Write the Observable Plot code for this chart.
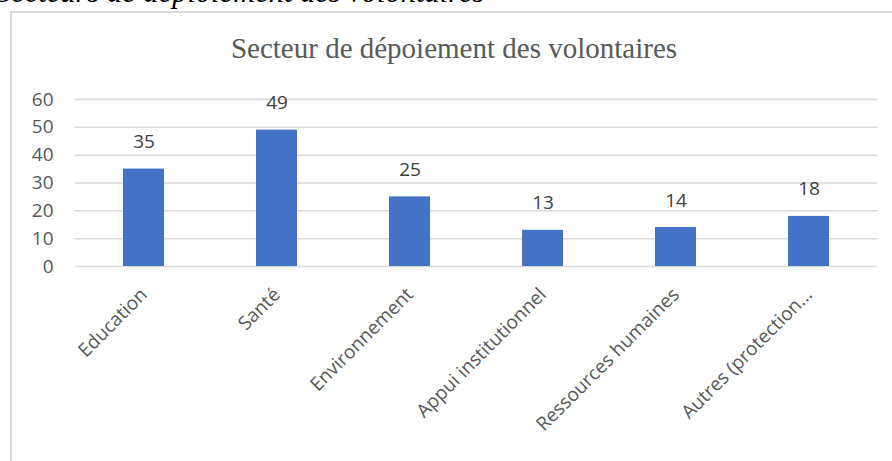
<!DOCTYPE html>
<html>
<head>
<meta charset="utf-8">
<script src="https://cdn.jsdelivr.net/npm/d3@7"></script>
<script src="https://cdn.jsdelivr.net/npm/@observablehq/plot@0.6"></script>
<style>
  html, body { margin: 0; padding: 0; background: #fff; width: 892px; height: 461px; overflow: hidden; }
  #wrap { position: relative; width: 892px; height: 461px; }
  #caption { position: absolute; left: -4px; top: -25px; font-family: "Liberation Serif", serif; font-style: italic; font-size: 30.5px; color: #000; white-space: nowrap; }
  #box { position: absolute; left: 10px; top: 11px; width: 900px; height: 470px; border: 2px solid #d9d9d9; box-sizing: border-box; }
  #title { position: absolute; left: 0; width: 908px; top: 32px; text-align: center; font-family: "Liberation Serif", serif; font-size: 29px; color: #595959; white-space: nowrap; }
  #chart { position: absolute; left: 0; top: 0; }
</style>
</head>
<body>
<div id="wrap">
  <div id="caption">Secteurs de déploiement des volontaires</div>
  <div id="box"></div>
  <div id="title">Secteur de dépoiement des volontaires</div>
  <div id="chart"></div>
</div>
<script>
const categories = ["Education", "Santé", "Environnement", "Appui institutionnel", "Ressources humaines", "Autres (protection..."];
const values = [35, 49, 25, 13, 14, 18];
const yTicks = [0, 10, 20, 30, 40, 50, 60];

const data = categories.map((c, i) => ({category: c, value: values[i]}));

const chart = Plot.plot({
  width: 892,
  height: 461,
  marginLeft: 75,
  marginRight: 15,
  marginTop: 99,
  marginBottom: 195,
  style: { fontFamily: "'Open Sans', sans-serif", color: "#595959", background: "transparent" },
  x: { domain: categories, paddingInner: 0.69, paddingOuter: 0.345, align: 0.5 },
  y: { domain: [0, 60] },
  marks: [
    Plot.gridY(yTicks, { stroke: "#d9d9d9", strokeOpacity: 1, strokeWidth: 1.5 }),
    Plot.barY(data, { x: "category", y: "value", fill: "#4472C4" }),
    Plot.text(data, { x: "category", y: "value", text: d => String(d.value), dy: -27, fontSize: 19, fill: "#404040" }),
    Plot.axisY(yTicks, { tickSize: 0, tickPadding: 22, fontSize: 19, label: null, fill: "#595959" }),
    Plot.axisX({ tickSize: 0, tickPadding: 25, tickRotate: -45, fontSize: 19, label: null, fill: "#595959" })
  ]
});
document.getElementById("chart").appendChild(chart);
</script>
</body>
</html>
